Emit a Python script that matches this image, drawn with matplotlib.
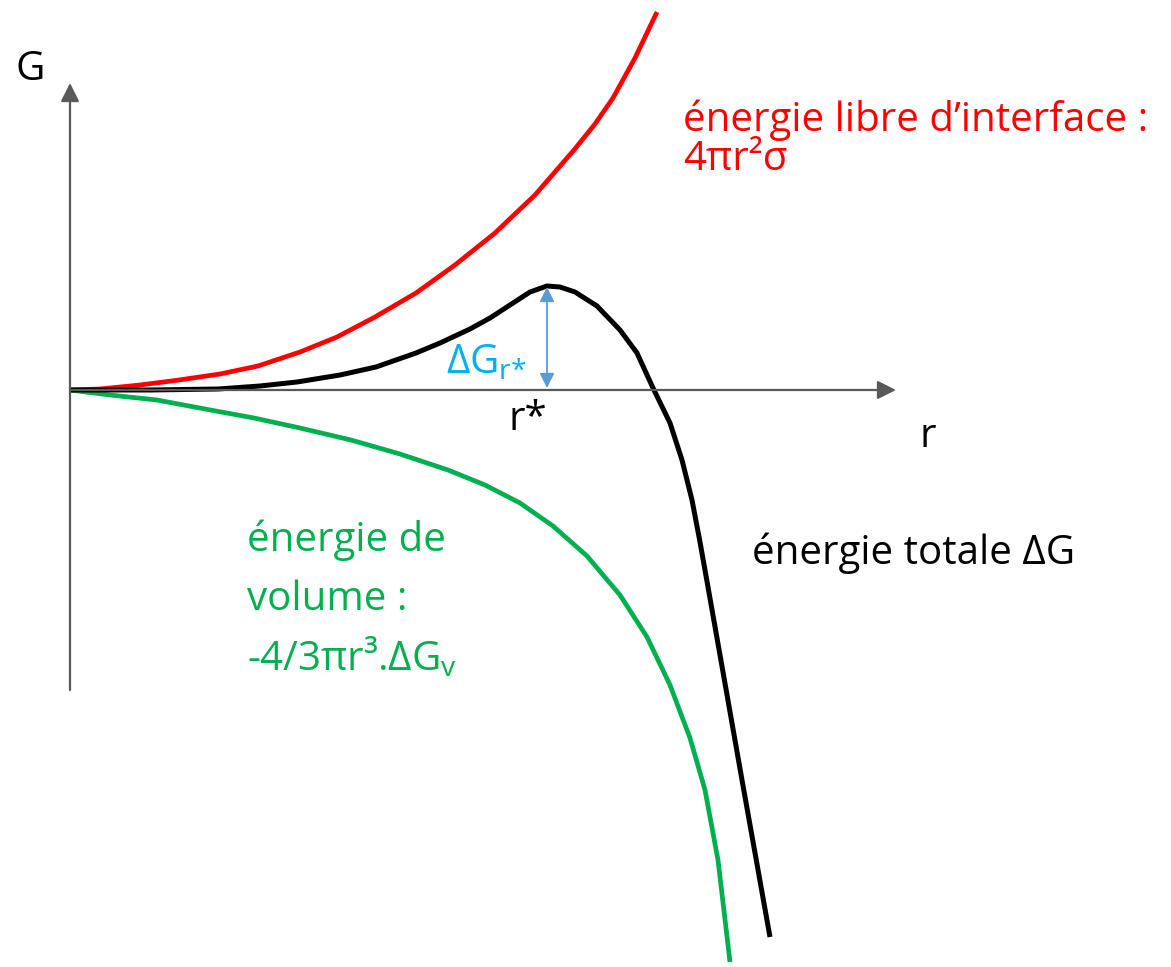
import matplotlib
matplotlib.use("Agg")
import numpy as np
import matplotlib.pyplot as plt

# ---------- données (r, G en unités arbitraires) ----------
r_interface = [0.00, 0.30, 0.70, 1.09, 1.50, 1.88, 2.30, 2.67, 3.05, 3.46, 3.85, 4.25,
               4.65, 5.04, 5.25, 5.43, 5.65, 5.87]
G_interface = [0.00, 0.01, 0.05, 0.10, 0.16, 0.24, 0.38, 0.53, 0.73, 0.97, 1.25, 1.57,
               1.95, 2.40, 2.66, 2.92, 3.32, 3.78]

r_volume = [0.00, 0.40, 0.87, 1.35, 1.84, 2.30, 2.81, 3.30, 3.78, 4.15, 4.50, 4.83,
            5.17, 5.50, 5.77, 6.00, 6.20, 6.35, 6.48, 6.60]
G_volume = [0.00, -0.05, -0.10, -0.19, -0.28, -0.38, -0.50, -0.64, -0.80, -0.95, -1.13, -1.36,
            -1.66, -2.05, -2.47, -2.95, -3.48, -4.00, -4.70, -5.72]

r_total = [0.00, 0.80, 1.48, 1.90, 2.27, 2.70, 3.06, 3.46, 3.70, 4.00, 4.20, 4.40, 4.60,
           4.77, 4.90, 5.05, 5.27, 5.50, 5.67, 5.83, 6.00, 6.12, 6.22, 6.30, 6.38,
           6.53, 6.72, 7.00]
G_total = [0.00, 0.00, 0.01, 0.04, 0.08, 0.15, 0.23, 0.37, 0.47, 0.61, 0.72, 0.85, 0.98,
           1.04, 1.03, 0.98, 0.84, 0.60, 0.37, 0.02, -0.33, -0.70, -1.10, -1.52, -1.97,
           -2.82, -3.90, -5.47]

r_star = 4.77
G_star = 1.03

RED = '#FF0000'
GREEN = '#00B050'
CYAN = '#00B0F0'
ARROW_BLUE = '#5B9BD5'
AXIS_GREY = '#595959'

plt.rcParams['font.family'] = ['Open Sans', 'DejaVu Sans']
plt.rcParams['mathtext.fontset'] = 'custom'
plt.rcParams['mathtext.rm'] = 'Open Sans'

fig = plt.figure(figsize=(11.71, 9.67), dpi=100)
ax = fig.add_axes([0, 0, 1, 1])
ax.set_xlim(-0.70, 11.01)
ax.set_ylim(-5.77, 3.90)
ax.axis('off')

# ---------- axes fléchés ----------
ax.annotate('', xy=(0, 3.07), xytext=(0, -3.00),
            arrowprops=dict(arrowstyle='-|>', color=AXIS_GREY, lw=1.6,
                            mutation_scale=28, shrinkA=0, shrinkB=0))
ax.annotate('', xy=(8.26, 0), xytext=(0, 0),
            arrowprops=dict(arrowstyle='-|>', color=AXIS_GREY, lw=1.6,
                            mutation_scale=28, shrinkA=0, shrinkB=0))

# ---------- courbes ----------
line_kw = dict(solid_capstyle='butt', solid_joinstyle='round')
ax.plot(r_interface, G_interface, color=RED, lw=3.4, **line_kw)
ax.plot(r_volume, G_volume, color=GREEN, lw=3.4, **line_kw)
ax.plot(r_total, G_total, color='black', lw=3.6, **line_kw)

# barrière ΔG_r*
ax.annotate('', xy=(r_star, G_star), xytext=(r_star, 0.02),
            arrowprops=dict(arrowstyle='<|-|>', color=ARROW_BLUE, lw=1.3,
                            mutation_scale=22, shrinkA=0, shrinkB=0))

# ---------- textes ----------
fs = 29
ax.text(-0.40, 3.20, 'G', fontsize=fs, ha='center', va='center')
ax.text(8.58, -0.47, 'r', fontsize=fs, ha='center', va='center')
ax.text(4.58, -0.30, 'r*', fontsize=fs, ha='center', va='center')
ax.text(3.76, 0.27, r'$\mathregular{ΔG_{r{*}}}$', fontsize=fs, color=CYAN,
        ha='left', va='center')

ax.text(6.13, 2.70, 'énergie libre d’interface :', fontsize=fs, color=RED,
        ha='left', va='center')
ax.text(6.13, 2.30, '4πr²σ', fontsize=fs, color=RED, ha='left', va='center')

ax.text(1.77, -1.50, 'énergie de', fontsize=fs, color=GREEN, ha='left', va='center')
ax.text(1.77, -2.10, 'volume :', fontsize=fs, color=GREEN, ha='left', va='center')
ax.text(1.77, -2.68, r'-4/3πr³.$\mathregular{ΔG_v}$', fontsize=fs, color=GREEN,
        ha='left', va='center')

ax.text(6.82, -1.63, 'énergie totale ΔG', fontsize=fs, ha='left', va='center')

fig.savefig('out.png', dpi=100)
